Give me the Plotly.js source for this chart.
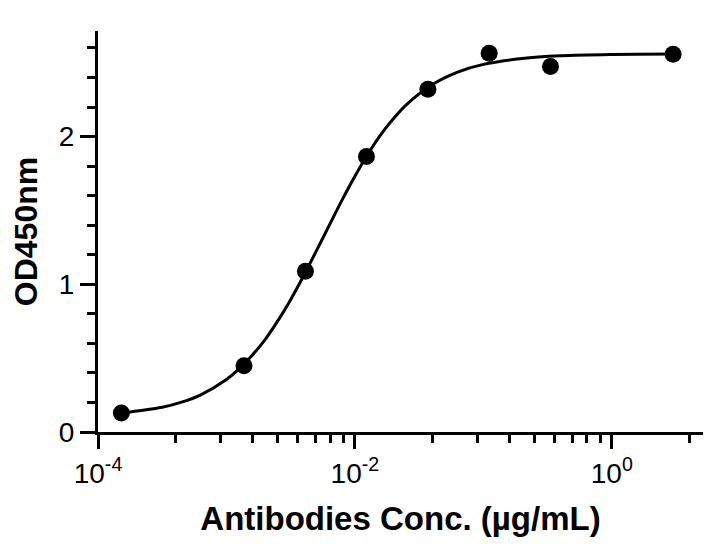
<!DOCTYPE html>
<html>
<head>
<meta charset="utf-8">
<script src="https://cdn.plot.ly/plotly-3.0.1.min.js"></script>
<style>
  html, body { margin: 0; padding: 0; background: #fff; }
  #chart { width: 727px; height: 544px; }
</style>
</head>
<body>
<div id="chart"></div>
<script>
// Measured points (3-fold dilution series)
const conc = [0.000152, 0.00137, 0.00412, 0.0123, 0.037, 0.111, 0.333, 3.0];
const od450 = [0.129, 0.449, 1.089, 1.865, 2.320, 2.564, 2.474, 2.557];

// Fitted curve
const curveConc = [0.000152, 0.000316, 0.000447, 0.000631, 0.001, 0.00126, 0.00158, 0.002,
  0.00251, 0.00316, 0.00398, 0.00501, 0.00631, 0.00794, 0.01, 0.0126, 0.0158, 0.02,
  0.0251, 0.0398, 0.0631, 0.1, 0.2, 0.4, 1.0, 3.0];
const curveOD = [0.128, 0.167, 0.202, 0.252, 0.356, 0.429, 0.518, 0.626,
  0.752, 0.896, 1.056, 1.226, 1.399, 1.570, 1.732, 1.880, 2.010, 2.122,
  2.215, 2.351, 2.437, 2.489, 2.529, 2.547, 2.556, 2.559];

// Axis ticks
const xMajorVals = [0.0001, 0.01, 1];
const xMajorText = ['10<sup>-4</sup>', '10<sup>-2</sup>', '10<sup>0</sup>'];
const xMinorVals = [0.0004, 0.0009, 0.0016, 0.0025, 0.0036, 0.0049, 0.0064, 0.0081,
  0.04, 0.09, 0.16, 0.25, 0.36, 0.49, 0.64, 0.81, 4];
const yMajorVals = [0, 1, 2];
const yMajorText = ['0', '1', '2'];

const FONT = 'Arial, "Liberation Sans", Helvetica, sans-serif';

const traces = [
  {
    x: curveConc, y: curveOD, type: 'scatter', mode: 'lines',
    line: { color: '#000', width: 3, shape: 'spline', smoothing: 1 },
    hoverinfo: 'skip', showlegend: false
  },
  {
    x: conc, y: od450, type: 'scatter', mode: 'markers',
    marker: { color: '#000', size: 17, symbol: 'circle' },
    showlegend: false
  }
];

const layout = {
  width: 727, height: 544,
  margin: { l: 98, r: 24, t: 31, b: 112 },
  paper_bgcolor: '#fff', plot_bgcolor: '#fff',
  font: { family: FONT, color: '#000', size: 28 },
  showlegend: false,
  xaxis: {
    type: 'log', range: [-4, 0.71],
    showline: true, linecolor: '#000', linewidth: 3,
    showgrid: false, zeroline: false,
    ticks: 'outside', ticklen: 14, tickwidth: 3, tickcolor: '#000',
    tickmode: 'array', tickvals: xMajorVals, ticktext: xMajorText,
    tickfont: { family: FONT, size: 28, color: '#000' },
    minor: { tickmode: 'array', tickvals: xMinorVals, ticks: 'outside', ticklen: 8, tickwidth: 3, tickcolor: '#000', showgrid: false },
    title: { text: '<b>Antibodies Conc. (µg/mL)</b>', font: { family: FONT, size: 33, color: '#000' }, standoff: 20 }
  },
  yaxis: {
    range: [0, 2.715],
    showline: true, linecolor: '#000', linewidth: 3,
    showgrid: false, zeroline: false,
    ticks: 'outside', ticklen: 15, tickwidth: 3, tickcolor: '#000',
    tickmode: 'array', tickvals: yMajorVals, ticktext: yMajorText,
    tickfont: { family: FONT, size: 28, color: '#000' },
    minor: { dtick: 0.2, tick0: 0, ticks: 'outside', ticklen: 8, tickwidth: 3, tickcolor: '#000', showgrid: false },
    title: { text: '<b>OD450nm</b>', font: { family: FONT, size: 32, color: '#000' }, standoff: 12 }
  }
};

Plotly.newPlot('chart', traces, layout, { displayModeBar: false, staticPlot: true });
</script>
</body>
</html>
